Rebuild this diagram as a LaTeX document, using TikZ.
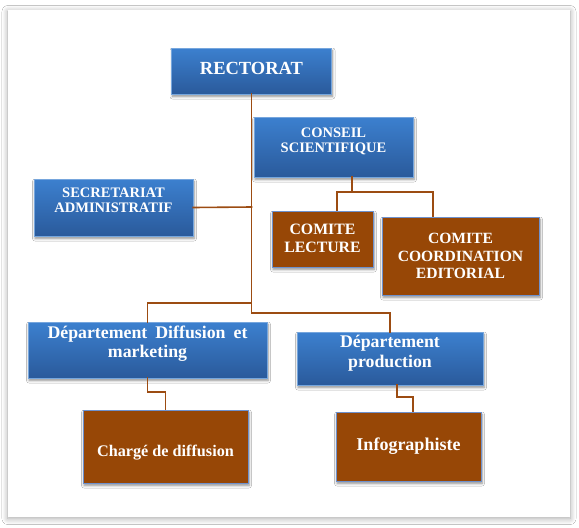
\documentclass[tikz,border=0pt]{standalone}
\usepackage{fontspec}
\setmainfont{Liberation Serif}
\usetikzlibrary{shadows.blur}
\definecolor{bluetop}{RGB}{60,128,207}
\definecolor{bluebot}{RGB}{42,90,155}
\definecolor{brownbox}{RGB}{151,71,6}
\definecolor{linkcol}{RGB}{156,76,18}
\definecolor{brownedge}{RGB}{110,145,205}
\begin{document}
\begin{tikzpicture}[x=1pt,y=-1pt,
  boxshadow/.style={blur shadow={shadow xshift=1pt,shadow yshift=-2.5pt,shadow blur radius=2.5pt,shadow blur steps=6,shadow opacity=45}},
  bluebox/.style={top color=bluetop,bottom color=bluebot,draw=bluetop!70!white,line width=0.4pt,inner sep=0pt,boxshadow},
  brownbox/.style={fill=brownbox,draw=brownedge,line width=0.7pt,inner sep=0pt,boxshadow},
  txt/.style={text=white,font=\bfseries,align=center,inner sep=0pt},
  link/.style={draw=linkcol,line width=1.6pt,line cap=rect}]
\useasboundingbox (0,0) rectangle (579,528);
\fill[white] (0,0) rectangle (579,528);
% page frame with shadow
\path[fill=white,blur shadow={shadow xshift=0pt,shadow yshift=-1.5pt,shadow blur radius=6pt,shadow blur steps=10,shadow opacity=35}] (8,10) rectangle (570,517);

% boxes
\node[bluebox,minimum width=160pt,minimum height=46pt] (rect) at (251.5,71) {};
\node[bluebox,minimum width=159pt,minimum height=60pt] (conseil) at (333.5,147) {};
\node[bluebox,minimum width=159pt,minimum height=57pt] (secr) at (113.5,207.5) {};
\node[brownbox,minimum width=101pt,minimum height=56pt] (lecture) at (322.5,239) {};
\node[brownbox,minimum width=157pt,minimum height=78pt] (coord) at (460.5,256) {};
\node[bluebox,minimum width=239pt,minimum height=56pt] (diff) at (147.5,350) {};
\node[bluebox,minimum width=186pt,minimum height=53pt] (prod) at (390,358.5) {};
\node[brownbox,minimum width=165pt,minimum height=73pt] (charge) at (165.5,446.5) {};
\node[brownbox,minimum width=145pt,minimum height=69pt] (info) at (408.5,446.5) {};

% texts
\node[txt,font=\bfseries\fontsize{18.5}{20}\selectfont] (trect) at ([yshift=3pt]rect.center) {RECTORAT};
\node[txt,font=\bfseries\fontsize{14.5}{15.5}\selectfont] (tconseil) at ([yshift=5.5pt]conseil.center) {CONSEIL\\SCIENTIFIQUE};
\node[txt,font=\bfseries\fontsize{14.5}{15.5}\selectfont] (tsecr) at ([yshift=7pt]secr.center) {SECRETARIAT\\ADMINISTRATIF};
\node[txt,font=\bfseries\fontsize{15.8}{18}\selectfont] (tlecture) at ([yshift=1pt]lecture.center) {COMITE\\LECTURE};
\node[txt,font=\bfseries\fontsize{15.6}{17.5}\selectfont] (tcoord) at (coord.center) {COMITE\\COORDINATION\\EDITORIAL};
\node[txt,font=\bfseries\fontsize{17.8}{19}\selectfont] (tdiff) at ([yshift=6pt]diff.center) {\hbox to 200pt{Département\hfil\ Diffusion\hfil\ et}\\marketing};
\node[txt,font=\bfseries\fontsize{17.8}{20}\selectfont] (tprod) at ([yshift=5.5pt]prod.center) {Département\\production};
\node[txt,font=\bfseries\fontsize{16.2}{18}\selectfont] (tcharge) at ([yshift=-6.5pt]charge.center) {Chargé de diffusion};
\node[txt,font=\bfseries\fontsize{18}{20}\selectfont] (tinfo) at ([yshift=0pt]info.center) {Infographiste};

% junction coordinates
\coordinate (jsecr) at (251.5,207);
\coordinate (jdiff) at (251.5,303);
\coordinate (jprod) at (251.5,313);
\coordinate (cs) at (352,177);
\coordinate (cbar) at (352,192);
\coordinate (cl) at (337,192);
\coordinate (cr) at (433,192);
\coordinate (db) at (147.5,392);
\coordinate (pb) at (397,397);

% connectors
\draw[link] (rect.south) -- (jprod) -| (prod.north);
\draw[link] (jdiff) -| (diff.north);
\draw[link] (secr.east) -- (jsecr);
\draw[link] (cs) -- (cbar);
\draw[link] (cl |- lecture.north) |- (cr) -- (cr |- coord.north);
\draw[link] (diff.south) -- (db) -| (charge.north);
\draw[link] (pb |- prod.south) -- (pb) -| ([xshift=4.5pt]info.north);
\end{tikzpicture}
\end{document}
